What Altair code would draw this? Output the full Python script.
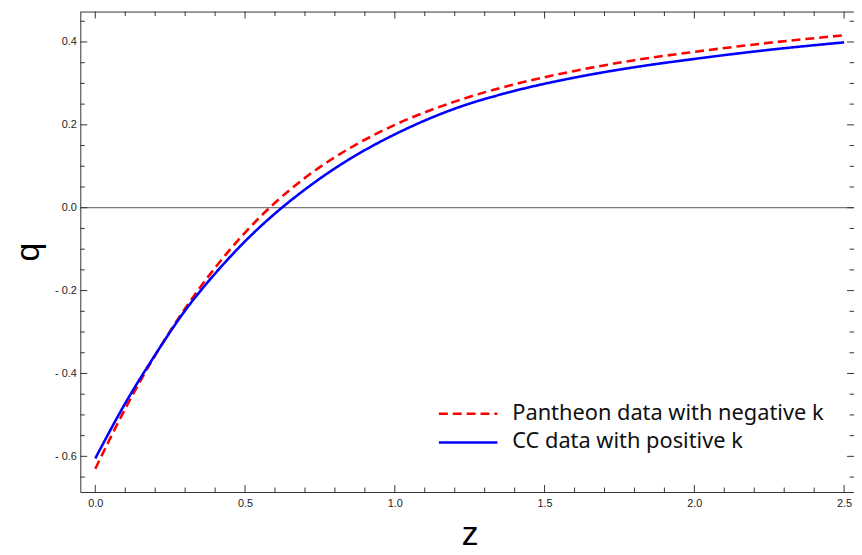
import altair as alt
import pandas as pd

# ---- data ----
z_vals = [0.0, 0.1, 0.2, 0.3, 0.4, 0.5, 0.6, 0.7, 0.8, 0.9, 1.0, 1.2, 1.4, 1.6, 1.8, 2.0, 2.25, 2.5]
q_pantheon = [-0.630, -0.485, -0.356, -0.243, -0.145, -0.060, 0.012, 0.072, 0.122, 0.164,
              0.200, 0.256, 0.298, 0.330, 0.356, 0.376, 0.398, 0.416]
q_cc = [-0.605, -0.472, -0.355, -0.248, -0.159, -0.081, -0.014, 0.044, 0.095, 0.139,
        0.177, 0.239, 0.282, 0.314, 0.339, 0.359, 0.381, 0.399]

series_names = ["Pantheon data with negative k", "CC data with positive k"]
series_colors = ["#ff0000", "#0000ff"]

x_major = [0.0, 0.5, 1.0, 1.5, 2.0, 2.5]
x_minor = [0.1, 0.2, 0.3, 0.4, 0.6, 0.7, 0.8, 0.9, 1.1, 1.2, 1.3, 1.4, 1.6, 1.7, 1.8, 1.9,
           2.1, 2.2, 2.3, 2.4]
y_major = [-0.6, -0.4, -0.2, 0.0, 0.2, 0.4]
y_minor = [-0.65, -0.55, -0.5, -0.45, -0.35, -0.3, -0.25, -0.15, -0.1, -0.05,
           0.05, 0.1, 0.15, 0.25, 0.3, 0.35, 0.45]

x_domain = [-0.05, 2.533]
y_domain = [-0.686, 0.4734]

W, H = 781, 485
FRAME = "#333333"
LABEL_FONT = "Liberation Sans"

curves = pd.DataFrame({
    "z": z_vals * 2,
    "q": q_pantheon + q_cc,
    "series": [series_names[0]] * len(z_vals) + [series_names[1]] * len(z_vals),
    "order": [0] * len(z_vals) + [1] * len(z_vals),
})

xs = alt.Scale(domain=x_domain, nice=False, zero=False)
ys = alt.Scale(domain=y_domain, nice=False, zero=False)

x_axis = alt.Axis(values=x_major, format=".1f", grid=False, ticks=False, tickSize=0,
                  domain=True, domainColor=FRAME, domainWidth=1,
                  labelFont=LABEL_FONT, labelFontSize=11, labelColor="#222222",
                  labelPadding=6,
                  title="z", titleFont=LABEL_FONT, titleFontSize=34, titleFontWeight="normal",
                  titleColor="#000000", titleX=393, titleY=53, titleBaseline="alphabetic")
y_axis = alt.Axis(values=y_major, grid=False, ticks=False, tickSize=0,
                  domain=True, domainColor=FRAME, domainWidth=1,
                  labelExpr="datum.value < -0.001 ? '- ' + format(abs(datum.value), '.1f') : format(abs(datum.value), '.1f')",
                  labelFont=LABEL_FONT, labelFontSize=11, labelColor="#222222",
                  labelPadding=4,
                  title="q", titleFont=LABEL_FONT, titleFontSize=34, titleFontWeight="normal",
                  titleColor="#000000", titleX=-42, titleY=H / 2, titleBaseline="alphabetic",
                  titleAngle=270)

def X(field):
    return alt.X(f"{field}:Q", scale=xs, axis=x_axis, title="z")

def Y(field):
    return alt.Y(f"{field}:Q", scale=ys, axis=y_axis, title="q")

# zero line
zero_df = pd.DataFrame({"q": [0.0]})
zero_line = alt.Chart(zero_df).mark_rule(color="#555555", strokeWidth=1).encode(
    y=Y("q"), x=alt.value(0), x2=alt.value(W),
)

# curves
lines = alt.Chart(curves).mark_line(strokeWidth=2.6, interpolate="monotone", clip=True).encode(
    x=X("z"),
    y=Y("q"),
    color=alt.Color("series:N", scale=alt.Scale(domain=series_names, range=series_colors), legend=None),
    strokeDash=alt.StrokeDash("series:N", scale=alt.Scale(domain=series_names, range=[[9, 5], [1, 0]]), legend=None),
    order=alt.Order("order:Q"),
    detail="series:N",
)

# frame top line
top_line = alt.Chart(zero_df).mark_rule(color=FRAME, strokeWidth=1).encode(
    x=alt.value(0), x2=alt.value(W), y=alt.value(0.5),
)

def xticks(vals, length):
    df = pd.DataFrame({"z": vals})
    bottom = alt.Chart(df).mark_rule(color=FRAME, strokeWidth=1).encode(
        x=X("z"), y=alt.value(H), y2=alt.value(H - length))
    top = alt.Chart(df).mark_rule(color=FRAME, strokeWidth=1).encode(
        x=X("z"), y=alt.value(0), y2=alt.value(length))
    return [bottom, top]

def yticks(vals, length):
    df = pd.DataFrame({"q": vals})
    left = alt.Chart(df).mark_rule(color=FRAME, strokeWidth=1).encode(
        y=Y("q"), x=alt.value(0), x2=alt.value(length))
    right = alt.Chart(df).mark_rule(color=FRAME, strokeWidth=1).encode(
        y=Y("q"), x=alt.value(W), x2=alt.value(W - length))
    return [left, right]

tick_layers = xticks(x_major, 7) + xticks(x_minor, 4.5) + yticks(y_major, 7) + yticks(y_minor, 4.5)

# legend (inside plot, lower right)
leg_df = pd.DataFrame({"series": series_names})
LEG_X0, LEG_X1, LEG_TX = 362, 421, 436
LEG_Y = [406, 435]
legend_layers = []
for i, name in enumerate(series_names):
    sub = leg_df[leg_df.series == name]
    dash = [9, 5] if i == 0 else [1, 0]
    legend_layers.append(
        alt.Chart(sub).mark_rule(color=series_colors[i], strokeWidth=2.6, strokeDash=dash).encode(
            x=alt.value(LEG_X0), x2=alt.value(LEG_X1), y=alt.value(LEG_Y[i]))
    )
    legend_layers.append(
        alt.Chart(sub).mark_text(align="left", baseline="middle", font="Noto Sans",
                                 fontSize=22, color="#111111").encode(
            x=alt.value(LEG_TX), y=alt.value(LEG_Y[i] - 1), text="series:N")
    )

chart = alt.layer(zero_line, lines, top_line, *tick_layers, *legend_layers).properties(
    width=W, height=H,
    autosize=alt.AutoSizeParams(type="none"),
    padding={"left": 73, "top": 1, "right": 0, "bottom": 58},
    background="white",
).configure_view(stroke=None)

chart.save("out.html", embed_options={"renderer": "svg", "actions": False})
